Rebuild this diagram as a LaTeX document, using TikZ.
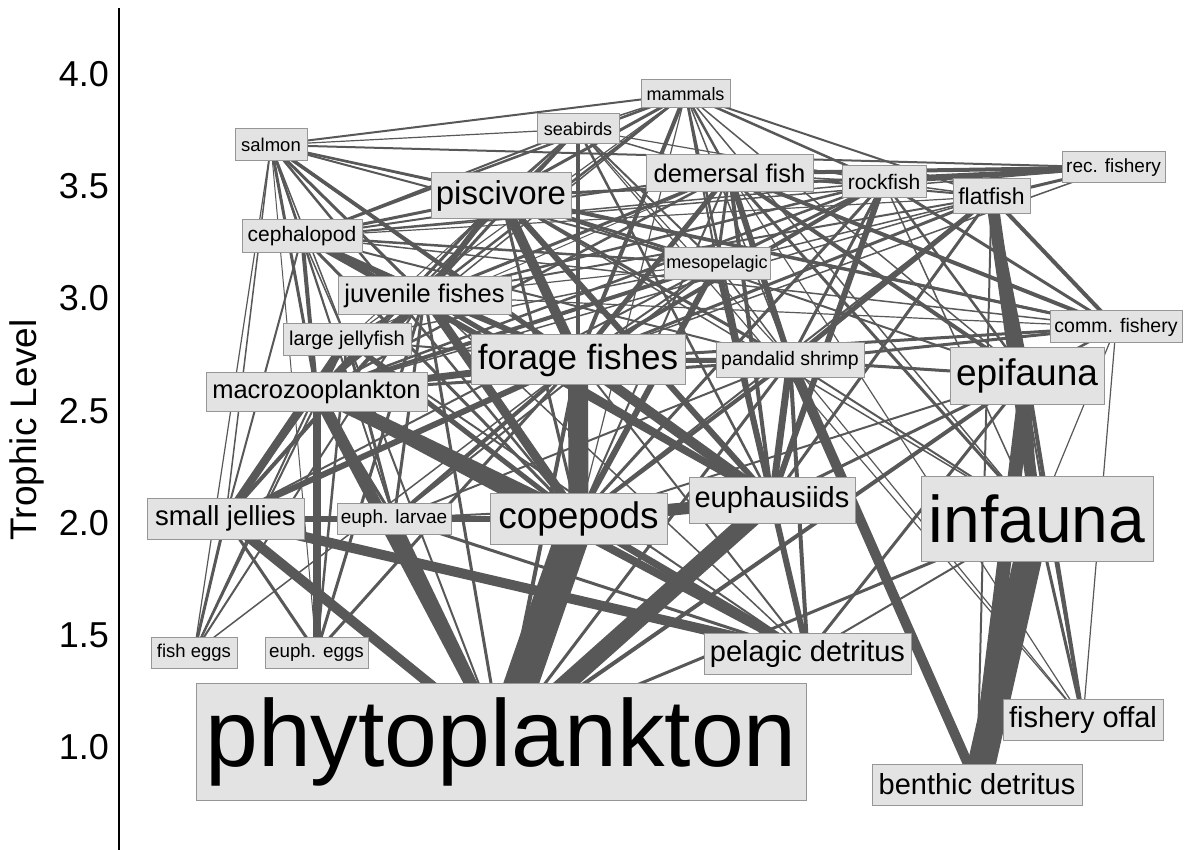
\documentclass[tikz,border=0pt]{standalone}
\usepackage{fontspec}
\setmainfont{Liberation Sans}
\pgfdeclarelayer{edges}
\pgfsetlayers{edges,main}
\newcommand\fsz[1]{\fontsize{#1}{#1}\selectfont}
\definecolor{edgec}{RGB}{88,88,88}
\definecolor{boxfill}{RGB}{227,227,227}
\definecolor{boxline}{RGB}{150,150,150}
\begin{document}
\begin{tikzpicture}[x=1pt,y=-1pt,
  box/.style={draw=boxline, fill=boxfill, line width=1pt, inner sep=0pt, text=black},
  edge/.style={draw=edgec}]
\useasboundingbox (0,0) rectangle (1184,850);
% axis
\coordinate (axtop) at (119,8);
\coordinate (axbot) at (119,850);
\draw[line width=1.3pt] (axtop) -- (axbot);
\foreach \t/\yy in {4.0/74,3.5/186,3.0/298,2.5/411,2.0/523,1.5/635,1.0/747}
  \node[anchor=east, inner sep=0pt, font=\fsz{36}] (tick\t) at (109,\yy) {\t};
\node[rotate=90, inner sep=0pt, font=\fsz{37}] (ylab) at (27,430) {Trophic Level};
% nodes
\node[box, minimum width=89pt, minimum height=28pt, font=\fsz{18}] (mam) at (685.5,94) {mammals};
\node[box, minimum width=82pt, minimum height=30pt, font=\fsz{18}] (sea) at (578,129) {seabirds};
\node[box, minimum width=72pt, minimum height=32pt, font=\fsz{18.5}] (sal) at (271,145) {salmon};
\node[box, minimum width=167pt, minimum height=37pt, font=\fsz{25.5}] (dem) at (729.5,173.5) {demersal fish};
\node[box, minimum width=84pt, minimum height=32pt, font=\fsz{21}] (roc) at (884,182) {rockfish};
\node[box, minimum width=103pt, minimum height=31pt, font=\fsz{19}] (rec) at (1113.5,167.5) {rec. fishery};
\node[box, minimum width=77pt, minimum height=35pt, font=\fsz{23}] (fla) at (991.5,196.5) {flatfish};
\node[box, minimum width=140pt, minimum height=46pt, font=\fsz{33}] (pis) at (501,196) {piscivore};
\node[box, minimum width=120pt, minimum height=33pt, font=\fsz{21}] (cep) at (302,236.5) {cephalopod};
\node[box, minimum width=106pt, minimum height=32pt, font=\fsz{18}] (mes) at (717,264) {mesopelagic};
\node[box, minimum width=173pt, minimum height=38pt, font=\fsz{25.5}] (juv) at (424.5,296) {juvenile fishes};
\node[box, minimum width=128pt, minimum height=32pt, font=\fsz{20}] (lje) at (347,340) {large jellyfish};
\node[box, minimum width=132pt, minimum height=32pt, font=\fsz{19.5}] (com) at (1116,327) {comm. fishery};
\node[box, minimum width=214pt, minimum height=50pt, font=\fsz{35}] (for) at (578,360) {forage fishes};
\node[box, minimum width=148pt, minimum height=35pt, font=\fsz{19.5}] (pan) at (790,360.5) {pandalid shrimp};
\node[box, minimum width=154pt, minimum height=56pt, font=\fsz{37}] (epi) at (1027,376) {epifauna};
\node[box, minimum width=221pt, minimum height=38pt, font=\fsz{25.5}] (mac) at (316.5,392) {macrozooplankton};
\node[box, minimum width=157pt, minimum height=41pt, font=\fsz{27.5}] (sje) at (225.5,518.5) {small jellies};
\node[box, minimum width=114pt, minimum height=31pt, font=\fsz{19}] (ela) at (394,518.5) {euph. larvae};
\node[box, minimum width=177pt, minimum height=51pt, font=\fsz{37}] (cop) at (578.5,518.5) {copepods};
\node[box, minimum width=166pt, minimum height=46pt, font=\fsz{29}] (eup) at (772,500) {euphausiids};
\node[box, minimum width=232pt, minimum height=85pt, font=\fsz{66}] (inf) at (1037,518.5) {infauna};
\node[box, minimum width=86pt, minimum height=31pt, font=\fsz{18.5}] (feg) at (194,652.5) {fish eggs};
\node[box, minimum width=103pt, minimum height=31pt, font=\fsz{18.8}] (eeg) at (316.5,652.5) {euph. eggs};
\node[box, minimum width=207pt, minimum height=41pt, font=\fsz{29}] (pde) at (807.5,653.5) {pelagic detritus};
\node[box, minimum width=160pt, minimum height=41pt, font=\fsz{29}] (off) at (1083,719.5) {fishery offal};
\node[box, minimum width=210pt, minimum height=41pt, font=\fsz{29}] (bde) at (977,784.5) {benthic detritus};
\node[box, minimum width=610pt, minimum height=117pt, font=\fsz{95}] (phy) at (501,741.5) {phytoplankton};
% edges (prey/predator/width)
\begin{pgfonlayer}{edges}
\foreach \p/\q/\w in {
 sal/mam/2, sea/mam/1.5, pis/mam/3, dem/mam/2.5, roc/mam/2.5, fla/mam/2, cep/mam/2.5, mes/mam/2,
 juv/mam/2.5, for/mam/4, pan/mam/1.5, epi/mam/1.5, eup/mam/2.5, mac/mam/1.5, cop/mam/1.2, inf/mam/1.5, lje/mam/1.2,
 sal/sea/1.2, pis/sea/2, dem/sea/1.5, cep/sea/2, mes/sea/2, juv/sea/3, for/sea/4, pan/sea/1.2, eup/sea/2.5,
 mac/sea/2, cop/sea/1.5, off/sea/1.2, lje/sea/1, roc/sea/1.2,
 cep/sal/2.5, juv/sal/3, for/sal/3.5, mes/sal/2, mac/sal/3, eup/sal/3, cop/sal/2.5, lje/sal/1.5, sje/sal/1.5,
 ela/sal/1.5, feg/sal/1.2, eeg/sal/1,
 sal/rec/2, dem/rec/4, roc/rec/4, fla/rec/3, pis/rec/3, cep/rec/1.5, for/rec/1.5,
 cep/pis/3, for/pis/10, juv/pis/6, mes/pis/3, pan/pis/3, eup/pis/6, mac/pis/3, cop/pis/3, epi/pis/2, inf/pis/1.5, sal/pis/1.5,
 cep/dem/2, mes/dem/3, juv/dem/3, for/dem/5, pan/dem/6, epi/dem/4, eup/dem/4, mac/dem/2.5, cop/dem/2, inf/dem/3,
 fla/dem/2, roc/dem/1.5, off/dem/1.2, lje/dem/1,
 cep/roc/1.5, mes/roc/3, juv/roc/2.5, for/roc/4, pan/roc/3, epi/roc/2.5, eup/roc/6, mac/roc/2.5, cop/roc/3, inf/roc/1.5, fla/roc/1.5,
 for/fla/3, juv/fla/2, pan/fla/5, epi/fla/6, eup/fla/3, mac/fla/1.5, cop/fla/2, inf/fla/12, off/fla/2, bde/fla/2, mes/fla/1.5, cep/fla/1.2,
 sal/com/2.5, dem/com/4, roc/com/3, fla/com/4, pis/com/3, pan/com/3, epi/com/2.5, for/com/3, cep/com/1.5, juv/com/1.2, off/com/1.2, inf/com/1.2,
 for/cep/4, juv/cep/3, mes/cep/2.5, eup/cep/6, mac/cep/4, cop/cep/3, pan/cep/2, lje/cep/1.5, sje/cep/2, ela/cep/1.5,
 cop/mes/6, eup/mes/6, mac/mes/4, ela/mes/2, sje/mes/2, lje/mes/1.5, pan/mes/1.5, juv/mes/1.2,
 cop/juv/9, eup/juv/5, mac/juv/5, ela/juv/3, eeg/juv/3, feg/juv/2, sje/juv/4, lje/juv/1.5, pde/juv/1.5, phy/juv/3,
 cop/lje/5, sje/lje/8, ela/lje/3, mac/lje/4, feg/lje/2, eeg/lje/2.5, juv/lje/1.5, phy/lje/2, pde/lje/2,
 cop/for/20, eup/for/10, mac/for/7, ela/for/4, eeg/for/3, feg/for/1.5, sje/for/6, lje/for/2, pan/for/5, juv/for/3, mes/for/2, phy/for/4, pde/for/2,
 cop/pan/4, eup/pan/7, mac/pan/3, pde/pan/4, bde/pan/10, phy/pan/3, inf/pan/2, epi/pan/3, ela/pan/2, off/pan/1.2,
 bde/epi/14, inf/epi/4, pde/epi/3, phy/epi/4, off/epi/4, cop/epi/2, eup/epi/3, pan/epi/2,
 cop/mac/14, phy/mac/12, ela/mac/3, eeg/mac/8, feg/mac/2, sje/mac/3, pde/mac/8,
 phy/sje/10, cop/sje/6, feg/sje/3, eeg/sje/3, ela/sje/2, pde/sje/10,
 phy/ela/8, pde/ela/3,
 phy/cop/34, pde/cop/7,
 phy/eup/18, cop/eup/12, pde/eup/6, ela/eup/2,
 bde/inf/28, phy/inf/3, pde/inf/2, off/inf/3}
  \draw[edge, line width=\w pt] (\p.center) -- (\q.center);
\end{pgfonlayer}
\end{tikzpicture}
\end{document}
